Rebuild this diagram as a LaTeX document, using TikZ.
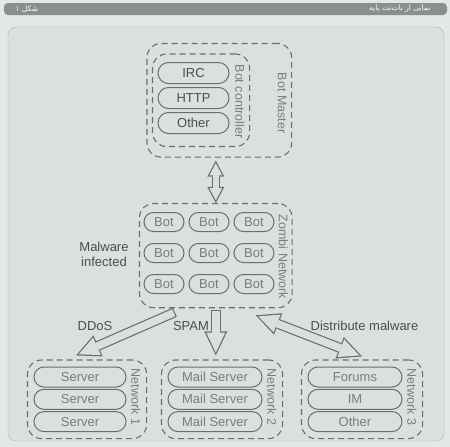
\documentclass[tikz,border=0pt]{standalone}
\usepackage{fontspec}
\setmainfont{Liberation Sans}
\newfontfamily\arabicfont[Script=Arabic]{DejaVu Sans}
\TeXXeTstate=1
\usetikzlibrary{positioning, shapes.misc, fit, calc, arrows.meta}
\definecolor{pagebg}{HTML}{E3E8E7}
\definecolor{panelbg}{HTML}{D9E0DF}
\definecolor{panelline}{HTML}{AEB6B5}
\definecolor{barbg}{HTML}{8A8E8E}
\definecolor{linegray}{HTML}{6A6E6E}
\definecolor{pilltext}{HTML}{787D7D}
\definecolor{tagtext}{HTML}{4A4E4E}
\tikzset{
  pill/.style={rounded rectangle, draw=linegray, line width=1pt, minimum height=20pt, inner sep=1pt, text=pilltext, font=\fontsize{13}{13}\selectfont},
  dashbox/.style={draw=linegray, line width=1.1pt, dash pattern=on 6pt off 4pt, rounded corners=14pt},
  grouptag/.style={rotate=-90, anchor=south, inner sep=0pt, text=pilltext, font=\fontsize{12.5}{13}\selectfont},
  tag/.style={text=tagtext, font=\fontsize{13}{15}\selectfont, align=center},
  bigtip/.tip={Triangle[length=24pt, width=23pt, line width=0pt]},
  bigtipcore/.tip={Triangle[length=20pt, width=19pt, line width=0pt]},
  smalltip/.tip={Triangle[length=16pt, width=17pt, line width=0pt]},
  smalltipcore/.tip={Triangle[length=12.2pt, width=13pt, line width=0pt]},
  fatarrow/.style={line width=10pt, draw=linegray, -bigtip},
  fatcore/.style={line width=7.6pt, draw=panelbg, -bigtipcore, shorten <=1.2pt, shorten >=2.8pt},
  fatboth/.style={line width=10pt, draw=linegray, bigtip-bigtip},
  fatbothcore/.style={line width=7.6pt, draw=panelbg, bigtipcore-bigtipcore, shorten <=2.8pt, shorten >=2.8pt},
  thinboth/.style={line width=8pt, draw=linegray, smalltip-smalltip},
  thinbothcore/.style={line width=5.6pt, draw=panelbg, smalltipcore-smalltipcore, shorten <=2.6pt, shorten >=2.6pt}
}
\begin{document}
\begin{tikzpicture}[x=1pt, y=-1pt]
    \useasboundingbox (0,0) rectangle (450,447);
    \fill [pagebg] (0,0) rectangle (450,447);

    % Cabecera
    \node (bar) [fill=barbg, rounded corners=4pt, minimum width=443pt, minimum height=12pt, inner sep=0pt] at (225.5,9) {};
    \node (title) [anchor=east, text=white, font=\arabicfont\fontsize{7.5}{8}\selectfont] at (434,9) {\beginR نمایی از بات‌نت پایه\endR};
    \node (fignum) [anchor=west, text=white, font=\arabicfont\fontsize{7.5}{8}\selectfont] at (12,9) {\beginR شکل ۱\endR};
    \node (panel) [draw=panelline, fill=panelbg, rounded corners=8pt, minimum width=436pt, minimum height=414pt] at (226,234) {};

    % Bot Master
    \node (irc) [pill, minimum width=73pt, minimum height=21pt, text=tagtext] at (193.5,73) {IRC};
    \node (http) [pill, minimum width=73pt, minimum height=21pt, text=tagtext, below=3pt of irc] {HTTP};
    \node (other) [pill, minimum width=73pt, minimum height=21pt, text=tagtext, below=3pt of http] {Other};
    \node (ctrltag) [grouptag] at (235,101.5) {Bot controller};
    \node (ctrl) [dashbox, fit=(irc)(other)(ctrltag), inner xsep=5pt, inner ysep=8pt] {};
    \node (mastertag) [grouptag] at (277.5,103) {Bot Master};
    \node (master) [dashbox, fit=(ctrl)(mastertag), inner xsep=5pt, inner ysep=10pt] {};

    % Zombi Network
    \node (b11) [pill, minimum width=42pt, minimum height=19pt] at (164,222) {Bot};
    \node (b12) [pill, minimum width=42pt, minimum height=19pt, right=4pt of b11] {Bot};
    \node (b13) [pill, minimum width=42pt, minimum height=19pt, right=4pt of b12] {Bot};
    \node (b21) [pill, minimum width=42pt, minimum height=19pt, below=11pt of b11] {Bot};
    \node (b22) [pill, minimum width=42pt, minimum height=19pt, right=4pt of b21] {Bot};
    \node (b23) [pill, minimum width=42pt, minimum height=19pt, right=4pt of b22] {Bot};
    \node (b31) [pill, minimum width=42pt, minimum height=19pt, below=11pt of b21] {Bot};
    \node (b32) [pill, minimum width=42pt, minimum height=19pt, right=4pt of b31] {Bot};
    \node (b33) [pill, minimum width=42pt, minimum height=19pt, right=4pt of b32] {Bot};
    \node (zombitag) [grouptag] at (278.5,257) {Zombi Network};
    \node (zombi) [dashbox, fit=(b11)(b33)(zombitag), inner xsep=4pt, inner ysep=8.5pt] {};
    \node (infected) [tag] at (104,254) {Malware\\infected};

    % Redes
    \node (s1) [pill, minimum width=94pt] at (80,377) {Server};
    \node (s2) [pill, minimum width=94pt, below=1.3pt of s1] {Server};
    \node (s3) [pill, minimum width=94pt, below=1.3pt of s2] {Server};
    \node (net1tag) [grouptag] at (131,397) {Network 1};
    \node (net1) [dashbox, fit=(s1)(s3)(net1tag), inner xsep=6pt, inner ysep=6.5pt] {};

    \node (m1) [pill, minimum width=96pt] at (215,377) {Mail Server};
    \node (m2) [pill, minimum width=96pt, below=1.3pt of m1] {Mail Server};
    \node (m3) [pill, minimum width=96pt, below=1.3pt of m2] {Mail Server};
    \node (net2tag) [grouptag] at (267,397) {Network 2};
    \node (net2) [dashbox, fit=(m1)(m3)(net2tag), inner xsep=6pt, inner ysep=6.5pt] {};

    \node (f1) [pill, minimum width=96pt] at (355,377) {Forums};
    \node (f2) [pill, minimum width=96pt, below=1.3pt of f1] {IM};
    \node (f3) [pill, minimum width=96pt, below=1.3pt of f2] {Other};
    \node (net3tag) [grouptag] at (407,397) {Network 3};
    \node (net3) [dashbox, fit=(f1)(f3)(net3tag), inner xsep=6pt, inner ysep=6.5pt] {};

    % Flechas
    \draw [thinboth] ([yshift=-3pt]zombi.north |- master.south) -- (zombi.north);
    \draw [thinbothcore] ([yshift=-3pt]zombi.north |- master.south) -- (zombi.north);

    \draw [fatarrow] ([xshift=-41pt,yshift=-4pt]zombi.south) -- ([xshift=-11pt,yshift=4pt]net1.north);
    \draw [fatcore] ([xshift=-41pt,yshift=-4pt]zombi.south) -- ([xshift=-11pt,yshift=4pt]net1.north);

    \draw [fatarrow] ([yshift=-2pt]zombi.south) -- ([yshift=4pt]zombi.south |- net2.north);
    \draw [fatcore] ([yshift=-2pt]zombi.south) -- ([yshift=4pt]zombi.south |- net2.north);

    \draw [fatboth] ([xshift=40pt,yshift=-7pt]zombi.south) -- ([yshift=3pt]net3.north);
    \draw [fatbothcore] ([xshift=40pt,yshift=-7pt]zombi.south) -- ([yshift=3pt]net3.north);

    % Etiquetas
    \node (ddos) [tag] at (95,326) {DDoS};
    \node (spam) [tag] at (191,326) {SPAM};
    \node (spread) [tag] at (364.5,326) {Distribute malware};
\end{tikzpicture}
\end{document}
